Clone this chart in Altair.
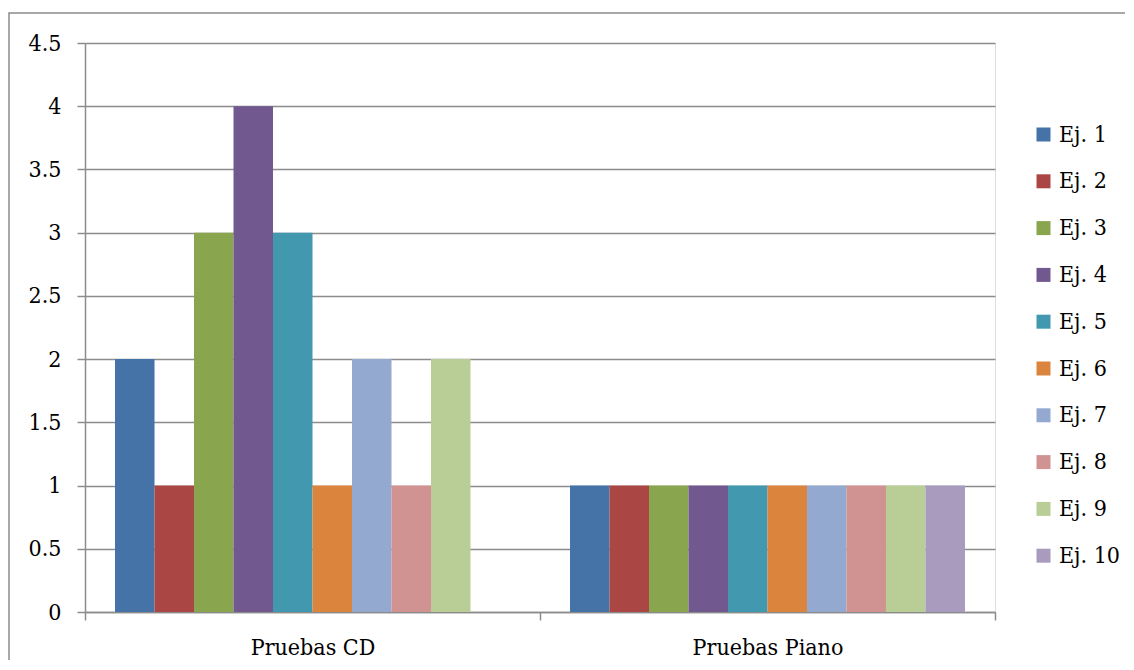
import altair as alt
import pandas as pd

categories = ["Pruebas CD", "Pruebas Piano"]
series = ["Ej. 1", "Ej. 2", "Ej. 3", "Ej. 4", "Ej. 5", "Ej. 6", "Ej. 7", "Ej. 8", "Ej. 9", "Ej. 10"]
cd_values = [2, 1, 3, 4, 3, 1, 2, 1, 2, 0]
piano_values = [1, 1, 1, 1, 1, 1, 1, 1, 1, 1]
colors = ["#4572A7", "#AA4643", "#89A54E", "#71588F", "#4198AF",
          "#DB843D", "#93A9CF", "#D19392", "#B9CD96", "#A99BBD"]
y_ticks = [0, 0.5, 1, 1.5, 2, 2.5, 3, 3.5, 4, 4.5]

rows = []
for cat, vals in zip(categories, [cd_values, piano_values]):
    for s, v in zip(series, vals):
        rows.append({"cat": cat, "serie": s, "val": v})
df = pd.DataFrame(rows)

FONT = "DejaVu Serif Condensed"
FS = 23
GRID = "#8c8c8c"

bars = alt.Chart(df).mark_bar().encode(
    x=alt.X("cat:N", sort=categories, title=None,
            scale=alt.Scale(paddingInner=0, paddingOuter=0),
            axis=alt.Axis(labelAngle=0, tickBand="extent", tickSize=8,
                          tickColor=GRID, tickWidth=1.5, domainColor=GRID,
                          domainWidth=1.5, labelFont=FONT, labelFontSize=FS,
                          labelColor="black", labelPadding=16, grid=False)),
    xOffset=alt.XOffset("serie:N", sort=series,
                        scale=alt.Scale(domain=series, paddingInner=0, paddingOuter=0.76)),
    y=alt.Y("val:Q", title=None,
            scale=alt.Scale(domain=[0, 4.5], nice=False),
            axis=alt.Axis(values=y_ticks, format=".1~f", tickSize=8,
                          tickColor=GRID, tickWidth=1.5, domainColor=GRID,
                          domainWidth=1.5, gridColor=GRID, gridWidth=1.5,
                          labelFont=FONT, labelFontSize=FS, labelColor="black",
                          labelPadding=16)),
    color=alt.Color("serie:N", sort=series,
                    scale=alt.Scale(domain=series, range=colors),
                    legend=alt.Legend(title=None, orient="none", legendX=947,
                                      legendY=80, symbolType="square",
                                      symbolSize=196, symbolStrokeWidth=0,
                                      labelFont=FONT, labelFontSize=FS,
                                      labelColor="black", rowPadding=22.8,
                                      labelOffset=4)),
)

border = alt.Chart(pd.DataFrame({"a": [0]})).mark_rect(
    fill=None, stroke="#8c8c8c", strokeWidth=1.5
).encode(
    x=alt.value(-76), x2=alt.value(1200),
    y=alt.value(-30), y2=alt.value(700),
)

chart = alt.layer(bars, border).properties(
    width=910, height=569,
    autosize=alt.AutoSizeParams(type="none"),
    padding={"left": 77, "top": 35, "right": 130, "bottom": 48},
).configure_view(stroke=None).configure(background="white")

chart.save("out.html", embed_options={"renderer": "svg", "actions": False})
